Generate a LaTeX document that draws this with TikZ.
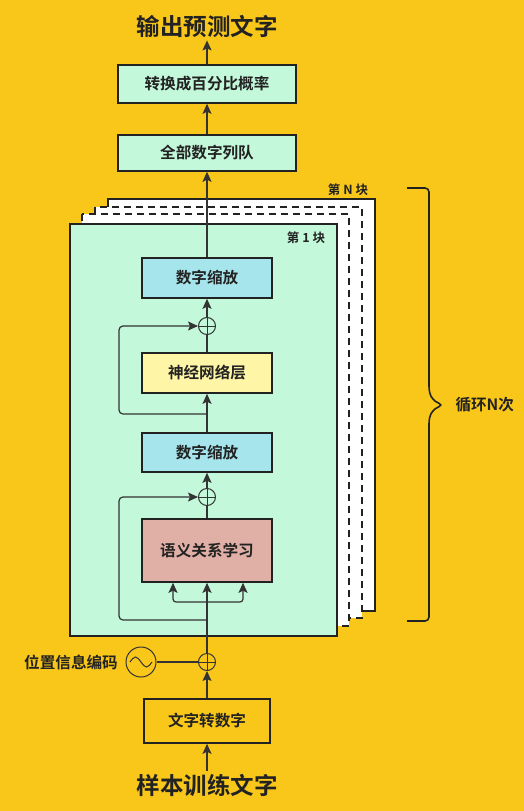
\documentclass[tikz,border=0pt]{standalone}
\usepackage{fontspec}
\setmainfont{Noto Sans CJK SC}[BoldFont={Noto Sans CJK SC Bold}]
\usepackage{tikz}
\usepackage{xcolor}
\usetikzlibrary{positioning, arrows.meta}

\definecolor{bgyellow}{HTML}{F9C71A}
\definecolor{mint}{HTML}{C3F8DA}
\definecolor{cyanbox}{HTML}{A6E5EC}
\definecolor{paleyellow}{HTML}{FEF5A6}
\definecolor{rosebox}{HTML}{E0AFA6}
\definecolor{inkdark}{HTML}{222222}
\definecolor{inkgray}{HTML}{333333}

\tikzset{
  box/.style={rectangle, draw=inkdark, line width=1.6pt, inner sep=0pt, text=inkdark,
    font=\fontsize{15.6}{18}\selectfont\bfseries},
  bigtext/.style={inner sep=3pt, text=inkdark, font=\fontsize{23.5}{26}\selectfont\bfseries},
  arr/.style={draw=inkgray, line width=1.2pt, -{Stealth[length=10pt, width=9pt, inset=2pt]}},
  link/.style={draw=inkgray, line width=1.2pt},
  sum/.style={circle, draw=inkgray, line width=1pt, minimum size=17pt, inner sep=0pt,
    path picture={\draw[inkgray, line width=1pt] (path picture bounding box.north) -- (path picture bounding box.south)
      (path picture bounding box.west) -- (path picture bounding box.east);}},
  page/.style={draw=inkdark, line width=1.6pt, fill=white},
}

\begin{document}
\begin{tikzpicture}[x=1pt, y=-1pt]
    \fill[bgyellow] (0,0) rectangle (524,811);
    \useasboundingbox (0,0) rectangle (524,811);

    % stacked blocks, back to front
    \draw[page] (108,199) rectangle (375,611);
    \draw[page, line width=1.4pt, dash pattern=on 7pt off 5pt] (95,207) rectangle (362,618);
    \draw[page, line width=1.4pt, dash pattern=on 7pt off 5pt] (82,214) rectangle (349,626);
    \draw[page, fill=mint] (70,224) rectangle (337,636);
    \node[text=inkdark, font=\fontsize{12.5}{14}\selectfont\bfseries] (labN) at (348,190) {第 N 块};
    \node[text=inkdark, font=\fontsize{12.5}{14}\selectfont\bfseries] (lab1) at (306,238) {第 1 块};

    \node[bigtext] (out) at (207,26) {输出预测文字};
    \node[box, fill=mint, minimum width=178pt, minimum height=38pt] (prob) at (207,84) {转换成百分比概率};
    \node[box, fill=mint, minimum width=178pt, minimum height=36pt] (seq) at (207,153) {全部数字列队};

    \node[box, fill=cyanbox, minimum width=130pt, minimum height=40pt] (norm2) at (207,278) {数字缩放};
    \node[sum] (add2) at (207,326) {};
    \node[box, fill=paleyellow, minimum width=130pt, minimum height=40pt] (ffn) at (207,373) {神经网络层};
    \node[box, fill=cyanbox, minimum width=130pt, minimum height=39pt] (norm1) at (207,452.5) {数字缩放};
    \node[sum] (add1) at (207,497) {};
    \node[box, fill=rosebox, minimum width=130pt, minimum height=63pt] (attn) at (207,550.5) {语义关系学习};

    \node[sum] (add0) at (207,662) {};
    \node[circle, draw=inkgray, line width=1pt, minimum size=30pt, inner sep=0pt] (pe) at (141,662) {};
    \node[text=inkdark, anchor=east, inner sep=0pt, font=\fontsize{15.6}{18}\selectfont\bfseries] (pelab) at (118,662) {位置信息编码};
    \node[box, minimum width=126pt, minimum height=44pt] (embed) at (207,721) {文字转数字};
    \node[bigtext] (inp) at (207,785) {样本训练文字};

    \coordinate (br) at (207,602);
    \coordinate (r1) at (207,620);
    \coordinate (r2) at (207,414);

    % wave in the position circle
    \draw[inkgray, line width=1pt] ([xshift=-11pt]pe.center) sin ++(5.5pt,5pt) cos ++(5.5pt,-5pt)
      sin ++(5.5pt,-5pt) cos ++(5.5pt,5pt);

    \draw[arr] (inp) -- (embed);
    \draw[arr] (embed) -- (add0);
    \draw[link] (pe) -- (add0);
    \draw[arr] (add0) -- (attn);
    \draw[arr, rounded corners=3pt] (br) -| ([xshift=-34pt]attn.south);
    \draw[arr, rounded corners=3pt] (br) -| ([xshift=36pt]attn.south);
    \draw[arr, rounded corners=4pt] (r1) -| ([xshift=-88pt]add1.center) -- (add1.west);
    \draw[link] (attn) -- (add1);
    \draw[arr] (add1) -- (norm1);
    \draw[arr] (norm1) -- (ffn);
    \draw[arr, rounded corners=4pt] (r2) -| ([xshift=-88pt]add2.center) -- (add2.west);
    \draw[link] (ffn) -- (add2);
    \draw[arr] (add2) -- (norm2);
    \draw[arr] (norm2) -- (seq);
    \draw[arr] (seq) -- (prob);
    \draw[arr] (prob) -- (out);

    % brace for the repeated blocks
    \coordinate (btop) at (407,188);
    \coordinate (bbot) at (407,621);
    \coordinate (btip) at (443,405);
    \draw[inkdark, line width=1.6pt, rounded corners=4pt] (btop) -- (429,188) -- (429,382)
      .. controls (429,396) and (433,401) .. (btip)
      .. controls (433,409) and (429,414) .. (429,428) -- (429,621) -- (bbot);
    \node[anchor=west, text=inkdark, font=\fontsize{15.6}{18}\selectfont\bfseries] (loop) at (452,405) {循环N次};
\end{tikzpicture}
\end{document}
